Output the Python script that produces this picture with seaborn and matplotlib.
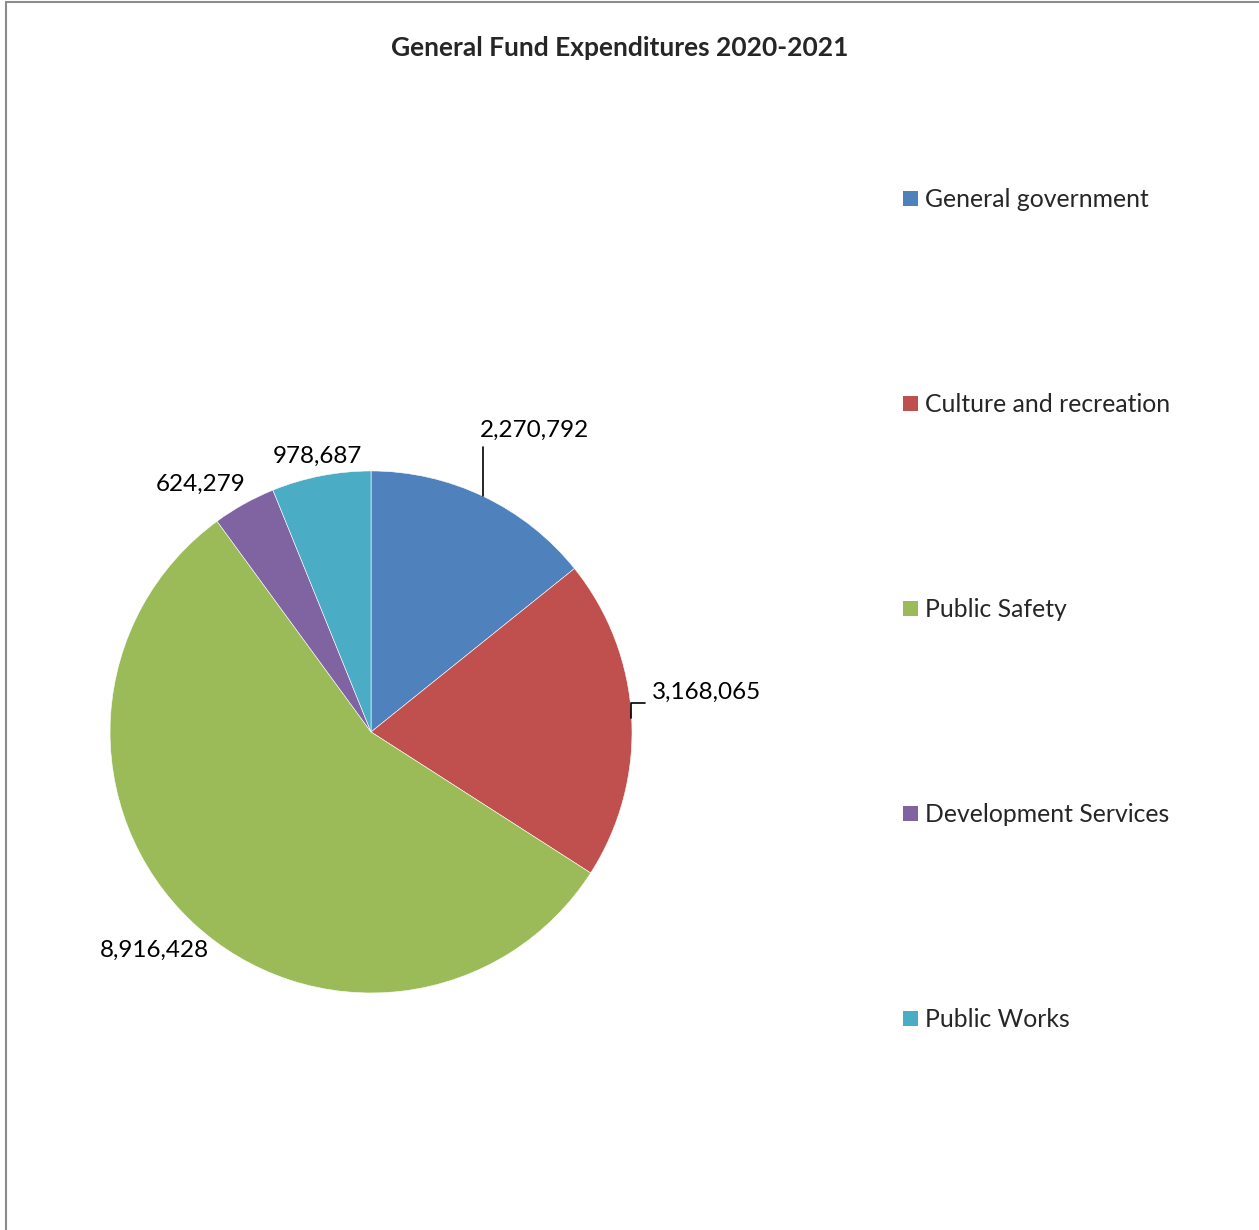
import matplotlib
matplotlib.use('Agg')
from matplotlib import pyplot as plt
from matplotlib.patches import Patch
from matplotlib.lines import Line2D
import seaborn as sns

categories = ['General government', 'Culture and recreation', 'Public Safety',
              'Development Services', 'Public Works']
values = [2270792, 3168065, 8916428, 624279, 978687]
value_labels = ['2,270,792', '3,168,065', '8,916,428', '624,279', '978,687']
colors = ['#4F81BD', '#C0504D', '#9BBB59', '#8064A2', '#4BACC6']

# label text positions (pie data units, radius = 1)
label_pos = [(0.628, 1.157), (1.287, 0.153), (-0.828, -0.835),
             (-0.651, 0.950), (-0.207, 1.057)]


def draw():
    sns.set_theme(style='white')
    plt.rcParams['font.family'] = ['Lato', 'DejaVu Sans']

    fig = plt.figure(figsize=(12.59, 12.30), dpi=100)
    fig.patch.set_facecolor('white')

    # outer chart border (left and top visible)
    fig.add_artist(Line2D([6 / 1259, 6 / 1259], [0, 1 - 2 / 1230],
                          transform=fig.transFigure, color='#8c8c8c', lw=1.5))
    fig.add_artist(Line2D([6 / 1259, 1], [1 - 2 / 1230, 1 - 2 / 1230],
                          transform=fig.transFigure, color='#8c8c8c', lw=1.5))

    ax = fig.add_axes([0.0874, 0.1927, 0.4146, 0.4244])
    ax.pie(values, colors=colors, startangle=90, counterclock=False,
           radius=1, wedgeprops=dict(linewidth=0.4, edgecolor='white'))
    ax.set_xlim(-1, 1)
    ax.set_ylim(-1, 1)
    ax.set_aspect('auto')
    ax.axis('off')

    for txt, (x, y) in zip(value_labels, label_pos):
        ax.text(x, y, txt, ha='center', va='center', fontsize=17.5,
                color='black', clip_on=False)

    # leader lines
    ax.plot([0.429, 0.429], [0.903, 1.092], color='black', lw=1.2, clip_on=False)
    ax.plot([0.996, 0.996, 1.050], [0.054, 0.111, 0.111], color='black', lw=1.2,
            clip_on=False)

    fig.text(620 / 1259, 1 - 48 / 1230, 'General Fund Expenditures 2020-2021',
             ha='center', va='center', fontsize=19, fontweight='bold')

    handles = [Patch(facecolor=c, edgecolor='none') for c in colors]
    fig.legend(handles, categories, loc='upper left',
               bbox_to_anchor=(891 / 1259, 1 - 176 / 1230), frameon=False,
               fontsize=17.8, handlelength=0.6, handleheight=0.6,
               handletextpad=0.28, labelspacing=7.36, borderpad=0)

    fig.savefig('out.png', dpi=100, facecolor='white')


if __name__ == '__main__':
    draw()
